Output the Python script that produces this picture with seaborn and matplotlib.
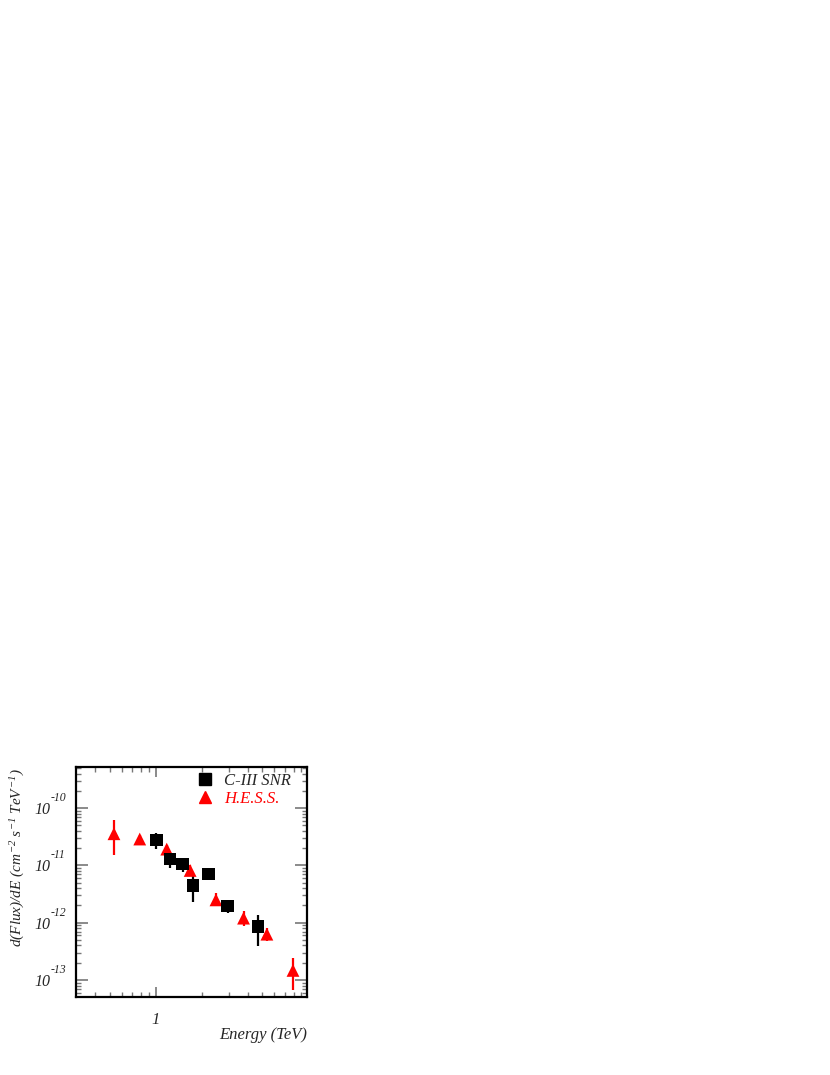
import numpy as np
import pandas as pd
import matplotlib
matplotlib.use('Agg')
import matplotlib.pyplot as plt
import matplotlib.transforms as mtransforms
import seaborn as sns
from matplotlib.ticker import FixedLocator, FixedFormatter, LogLocator, NullFormatter
from matplotlib.lines import Line2D

# --- data ---
c3_energy = [1.01, 1.24, 1.50, 1.75, 2.22, 2.96, 4.67]
c3_flux = [2.8e-11, 1.30e-11, 1.05e-11, 4.45e-12, 7.1e-12, 1.95e-12, 8.6e-13]
c3_hi = [3.66e-11, 1.6e-11, 1.34e-11, 6.4e-12, 7.6e-12, 2.1e-12, 1.37e-12]
c3_lo = [1.95e-11, 9.0e-12, 7.8e-12, 2.25e-12, 6.6e-12, 1.48e-12, 3.85e-13]

hess_energy = [0.532, 0.785, 1.18, 1.68, 2.48, 3.76, 5.35, 7.93]
hess_flux = [3.56e-11, 2.88e-11, 1.92e-11, 8.15e-12, 2.5e-12, 1.2e-12, 6.3e-13, 1.47e-13]
hess_hi = [6.1e-11, 3.4e-11, 2.3e-11, 1.02e-11, 3.3e-12, 1.58e-12, 8.05e-13, 2.4e-13]
hess_lo = [1.53e-11, 2.3e-11, 1.6e-11, 6.6e-12, 1.97e-12, 8.9e-13, 4.7e-13, 6.6e-14]

y_ticks = [1e-13, 1e-12, 1e-11, 1e-10]
y_exponents = ['-13', '-12', '-11', '-10']

df_c3 = pd.DataFrame({'E': c3_energy, 'F': c3_flux})
df_hess = pd.DataFrame({'E': hess_energy, 'F': hess_flux})

sns.set_style('ticks')
plt.rcParams['font.family'] = ['Liberation Serif', 'DejaVu Serif']
plt.rcParams['font.style'] = 'italic'
plt.rcParams['mathtext.fontset'] = 'custom'
plt.rcParams['mathtext.rm'] = 'Liberation Serif'
plt.rcParams['mathtext.it'] = 'Liberation Serif:italic'

fig = plt.figure(figsize=(8.3, 10.75), dpi=100)
ax = fig.add_axes([76 / 830, 1 - 997 / 1075, 231 / 830, 230 / 1075])

# error bars
ax.errorbar(c3_energy, c3_flux,
            yerr=[np.array(c3_flux) - np.array(c3_lo), np.array(c3_hi) - np.array(c3_flux)],
            fmt='none', ecolor='black', elinewidth=1.6, capsize=0, zorder=2)
ax.errorbar(hess_energy, hess_flux,
            yerr=[np.array(hess_flux) - np.array(hess_lo), np.array(hess_hi) - np.array(hess_flux)],
            fmt='none', ecolor='red', elinewidth=1.6, capsize=0, zorder=2)

sns.scatterplot(data=df_hess, x='E', y='F', marker='^', s=85, color='red',
                edgecolor='none', ax=ax, zorder=3, legend=False)
sns.scatterplot(data=df_c3, x='E', y='F', marker='s', s=80, color='black',
                edgecolor='none', ax=ax, zorder=4, legend=False)

ax.set_xscale('log')
ax.set_yscale('log')
ax.set_xlim(0.3, 9.8)
ax.set_ylim(5.05e-14, 5.2e-10)
ax.set_xlabel('')
ax.set_ylabel('')

# x ticks
ax.xaxis.set_major_locator(FixedLocator([1]))
ax.xaxis.set_major_formatter(FixedFormatter(['1']))
ax.xaxis.set_minor_locator(FixedLocator([0.4, 0.5, 0.6, 0.7, 0.8, 0.9, 2, 3, 4, 5, 6, 7, 8, 9]))
ax.xaxis.set_minor_formatter(NullFormatter())
# y ticks (labels drawn below as 10 + raised exponent)
ax.yaxis.set_major_locator(FixedLocator(y_ticks))
ax.yaxis.set_major_formatter(NullFormatter())
ax.yaxis.set_minor_locator(LogLocator(base=10, subs=np.arange(2, 10), numticks=20))
ax.yaxis.set_minor_formatter(NullFormatter())

ax.tick_params(which='both', direction='in', top=True, right=True, color='#777777')
ax.tick_params(axis='x', which='major', length=7.5, width=1.2, pad=11, labelsize=12)
ax.tick_params(axis='x', which='minor', length=3.6, width=1)
ax.tick_params(axis='y', which='major', length=8.5, width=1.2)
ax.tick_params(axis='y', which='minor', length=3.6, width=1)

for sp in ax.spines.values():
    sp.set_linewidth(1.6)
    sp.set_color('black')

trans = mtransforms.blended_transform_factory(ax.transAxes, ax.transData)
sup_trans = mtransforms.offset_copy(trans, fig=fig, x=0, y=10, units='dots')
for val, ex in zip(y_ticks, y_exponents):
    ax.text(-0.178, val, '10', transform=mtransforms.offset_copy(trans, fig=fig, y=-2, units='dots'),
            ha='left', va='center', fontsize=11.5, clip_on=False)
    ax.text(-0.108, val, ex, transform=sup_trans, ha='left', va='center',
            fontsize=8.5, clip_on=False)

fig.text(307 / 830, 1 - 1035 / 1075, 'Energy (TeV)', ha='right', va='center',
         fontsize=12, style='italic')
fig.text(18 / 830, 1 - 858 / 1075,
         r'$d(Flux)/dE\ (cm^{-2}\ s^{-1}\ TeV^{-1})$',
         rotation=90, ha='center', va='center', fontsize=11)

handles = [Line2D([], [], marker='s', color='black', linestyle='none', markersize=9),
           Line2D([], [], marker='^', color='red', linestyle='none', markersize=9)]
leg = ax.legend(handles, ['C-III SNR', 'H.E.S.S.'], loc='upper left',
                bbox_to_anchor=(0.45, 1.04), frameon=False, fontsize=12,
                handletextpad=0.55, labelspacing=0.12, handlelength=1.2)
leg.get_texts()[1].set_color('red')

fig.savefig('out.png', dpi=100)
